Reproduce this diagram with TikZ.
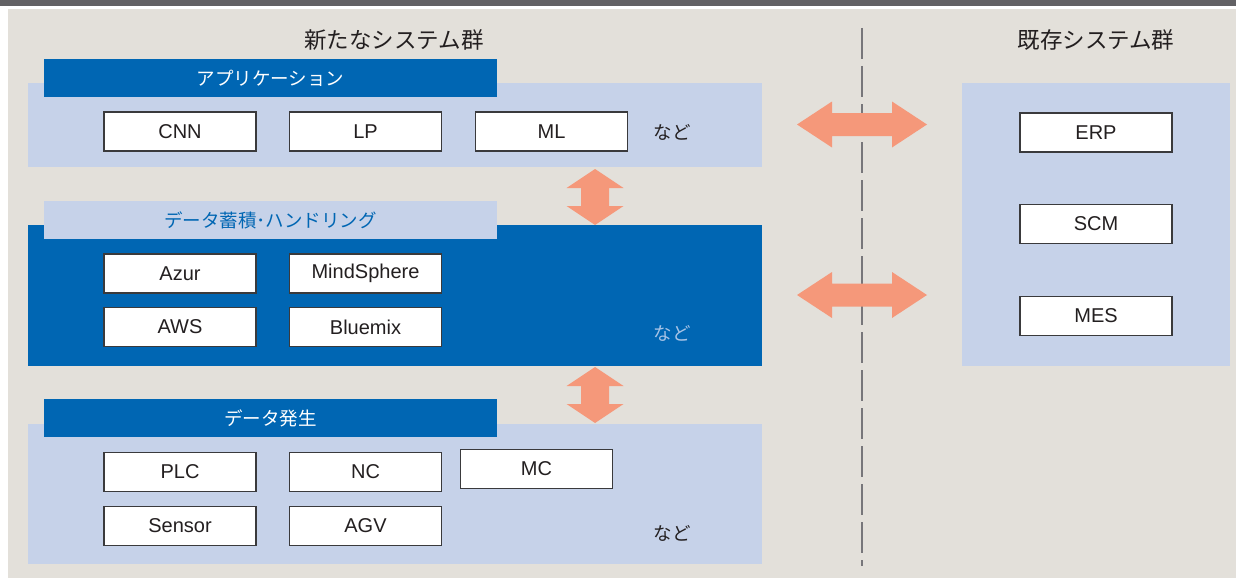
\documentclass[tikz,border=0pt]{standalone}
\usepackage{fontspec}
\setmainfont{Liberation Sans}
\newfontfamily\jp{Noto Sans CJK JP}
\usetikzlibrary{calc}
\definecolor{topbar}{HTML}{626164}
\definecolor{beige}{HTML}{E3E0DA}
\definecolor{lblue}{HTML}{C6D2E9}
\definecolor{dblue}{HTML}{0066B3}
\definecolor{salmon}{HTML}{F5987A}
\definecolor{txt}{HTML}{231F20}
\definecolor{dashc}{HTML}{77767A}
\definecolor{nadoblue}{HTML}{A9C4E6}
\definecolor{boxline}{HTML}{3A3A3C}
\tikzset{
  panel/.style={anchor=north west, inner sep=0pt, outer sep=0pt},
  lpanel/.style={panel, fill=lblue},
  dpanel/.style={panel, fill=dblue},
  hdrtext/.style={font=\jp\fontsize{18.5}{20}\selectfont, inner sep=0pt},
  itembox/.style={draw=boxline, line width=1.2pt, fill=white, minimum width=152pt, minimum height=39pt, inner sep=0pt, font=\fontsize{20}{21}\selectfont, text=txt},
  nado/.style={font=\jp\fontsize{18.5}{20}\selectfont, text=txt, inner sep=0pt},
  title/.style={font=\jp\fontsize{22.5}{24}\selectfont, text=txt, inner sep=0pt},
  dashline/.style={draw=dashc, line width=2pt, dash pattern=on 31pt off 7pt},
  hdarrow/.pic={\fill[salmon] (-65pt,0) -- (-30pt,23pt) -- (-30pt,11.5pt) -- (30pt,11.5pt) -- (30pt,23pt) -- (65pt,0) -- (30pt,-23pt) -- (30pt,-11.5pt) -- (-30pt,-11.5pt) -- (-30pt,-23pt) -- cycle;},
  vdarrow/.pic={\fill[salmon] (0,-28pt) -- (28.5pt,-9pt) -- (14pt,-9pt) -- (14pt,9pt) -- (28.5pt,9pt) -- (0,28pt) -- (-28.5pt,9pt) -- (-14pt,9pt) -- (-14pt,-9pt) -- (-28.5pt,-9pt) -- cycle;}
}
\begin{document}
\begin{tikzpicture}[x=1pt,y=-1pt]
\useasboundingbox (0,0) rectangle (1236,578);
\fill[white] (0,0) rectangle (1236,578);
\fill[topbar] (0,0) rectangle (1236,6);
\fill[beige] (8,9) rectangle (1236,578);

% titles
\node[title] (tnew) at (394,40) {新たなシステム群};
\node[title] (told) at (1096,40) {既存システム群};

% dashed divider
\coordinate (dtop) at (862,28);
\coordinate (dbot) at (862,566);
\draw[dashline] (dtop) -- (dbot);

% application layer
\node[lpanel, minimum width=734pt, minimum height=84pt] (app) at (28,83) {};
\node[dpanel, minimum width=453pt, minimum height=38pt] (apph) at (44,59) {};
\node[hdrtext, text=white] at (apph.center) {アプリケーション};
\node[itembox] (cnn) at (180,131.5) {CNN};
\node[itembox] (lp) at (365.5,131.5) {LP};
\node[itembox] (ml) at (551.5,131.5) {ML};
\node[nado] (nado1) at (672,132) {など};

% data storage layer
\node[dpanel, minimum width=734pt, minimum height=141pt] (data) at (28,225) {};
\node[lpanel, minimum width=453pt, minimum height=38pt] (datah) at (44,201) {};
\node[hdrtext, text=dblue] at (datah.center) {データ蓄積･ハンドリング};
\node[itembox] (azur) at (180,273.5) {Azur};
\node[itembox] (mind) at (365.5,273.5) {MindSphere};
\node[itembox] (aws) at (180,327) {AWS};
\node[itembox] (blue) at (365.5,327) {Bluemix};
\node[nado, text=nadoblue] (nado2) at (672,333) {など};

% data generation layer
\node[lpanel, minimum width=734pt, minimum height=140pt] (gen) at (28,424) {};
\node[dpanel, minimum width=453pt, minimum height=38pt] (genh) at (44,399) {};
\node[hdrtext, text=white] at (genh.center) {データ発生};
\node[itembox] (plc) at (180,472) {PLC};
\node[itembox] (nc) at (365.5,472) {NC};
\node[itembox] (mc) at (536.5,469) {MC};
\node[itembox] (sensor) at (180,526) {Sensor};
\node[itembox] (agv) at (365.5,526) {AGV};
\node[nado] (nado3) at (672,533) {など};

% existing systems
\node[lpanel, minimum width=268pt, minimum height=283pt] (old) at (962,83) {};
\node[itembox] (erp) at (1096,132.5) {ERP};
\node[itembox] (scm) at (1096,224) {SCM};
\node[itembox] (mes) at (1096,316) {MES};

% double arrows
\path (595,197) pic {vdarrow};
\path (595,395) pic {vdarrow};
\path (862,124.5) pic {hdarrow};
\path (862,295) pic {hdarrow};
\end{tikzpicture}
\end{document}
